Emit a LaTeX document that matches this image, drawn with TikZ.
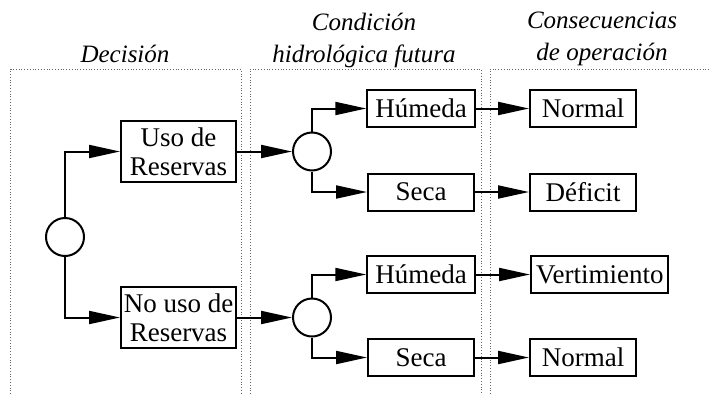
\documentclass[tikz,border=0pt]{standalone}
\usepackage{fontspec}
\setmainfont{Liberation Serif}
\usetikzlibrary{arrows.meta}
\begin{document}
\begin{tikzpicture}[x=1pt,y=-1pt,
  txt/.style={font=\fontsize{27}{29}\selectfont},
  hdr/.style={font=\fontsize{25}{29}\selectfont\itshape, anchor=base, inner sep=0pt},
  box/.style={draw, line width=2pt, txt, align=center, inner xsep=8pt, inner ysep=0pt, minimum height=37pt},
  bigbox/.style={box, minimum width=115pt, minimum height=61pt, inner xsep=2pt},
  smallbox/.style={box, minimum width=106pt},
  chance/.style={draw, circle, line width=2pt, minimum size=38pt, inner sep=0pt},
  conn/.style={line width=2pt, -{Triangle[length=31pt,width=13pt]}},
  panel/.style={dotted, line width=0.8pt, black!60}
]
\useasboundingbox (0,0) rectangle (711,394);

% panels
\draw[panel] (10.5,394) -- (10.5,69) -- (241,69) -- (241,394);
\draw[panel] (250,394) -- (250,69) -- (481,69) -- (481,394);
\draw[panel] (490,394) -- (490,69) -- (711,69);

% headers
\node[hdr] (h1) at (125,62) {Decisión};
\node[hdr] (h2a) at (364,30) {Condición};
\node[hdr] (h2b) at (364,62) {hidrológica futura};
\node[hdr] (h3a) at (602,28) {Consecuencias};
\node[hdr] (h3b) at (602,60) {de operación};

% nodes
\node[chance] (D) at (65,237) {};
\node[bigbox] (uso) at (178.5,151.5) {Uso de\\Reservas};
\node[bigbox] (nouso) at (178.5,317.5) {No uso de\\Reservas};
\node[chance] (C1) at (312,151.5) {};
\node[chance] (C2) at (312,317.5) {};
\node[smallbox] (hum1) at (421,108.5) {Húmeda};
\node[smallbox] (seca1) at (421,192) {Seca};
\node[smallbox] (hum2) at (421,274.5) {Húmeda};
\node[smallbox] (seca2) at (421,357.5) {Seca};
\node[smallbox] (norm1) at (583,108.5) {Normal};
\node[smallbox] (def) at (583,192) {Déficit};
\node[smallbox, anchor=west, inner xsep=5pt] (vert) at (530,274.5) {Vertimiento};
\node[smallbox] (norm2) at (583,357.5) {Normal};

% connectors
\draw[conn] (D.north) |- (uso.west);
\draw[conn] (D.south) |- (nouso.west);
\draw[conn] (uso.east) -- (C1.west);
\draw[conn] (nouso.east) -- (C2.west);
\draw[conn] (C1.north) |- (hum1.west);
\draw[conn] (C1.south) |- (seca1.west);
\draw[conn] (C2.north) |- (hum2.west);
\draw[conn] (C2.south) |- (seca2.west);
\draw[conn] (hum1.east) -- (norm1.west);
\draw[conn] (seca1.east) -- (def.west);
\draw[conn] (hum2.east) -- (vert.west);
\draw[conn] (seca2.east) -- (norm2.west);
\end{tikzpicture}
\end{document}
